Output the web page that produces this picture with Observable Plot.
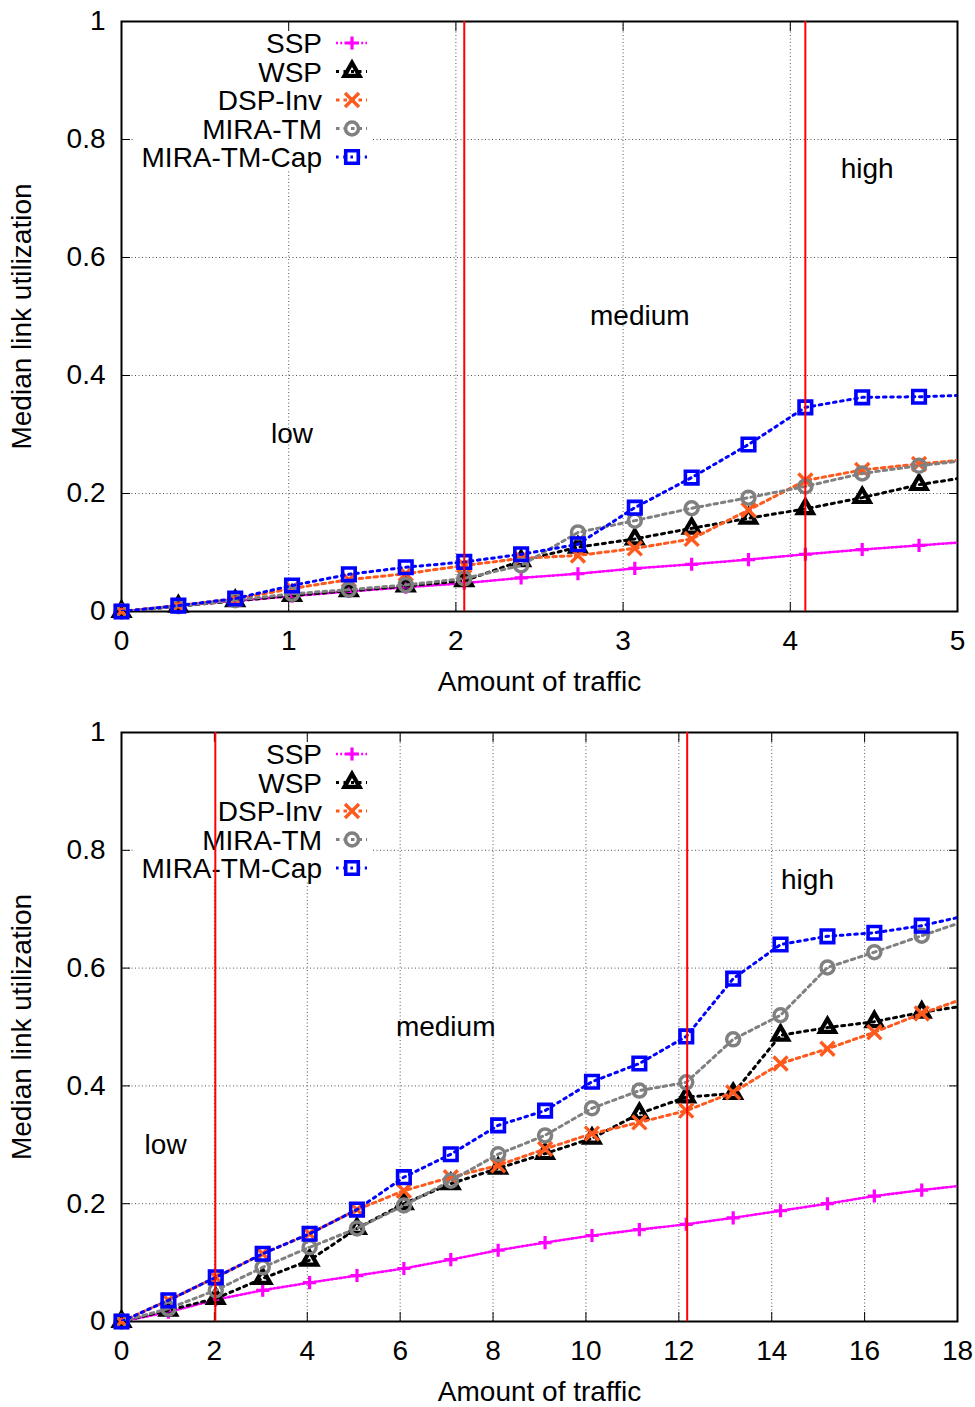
<!DOCTYPE html>
<html><head><meta charset="utf-8">
<script src="https://cdn.jsdelivr.net/npm/d3@7"></script>
<script src="https://cdn.jsdelivr.net/npm/@observablehq/plot@0.6"></script>
<style>
html,body{margin:0;padding:0;background:#fff;}
#c svg{display:block;}
</style></head><body><div id="c"></div>
<script>
// ---------- data ----------
const seriesNames = ["SSP", "WSP", "DSP-Inv", "MIRA-TM", "MIRA-TM-Cap"];
const xLabel = "Amount of traffic";
const yLabel = "Median link utilization";
const yTicks = [0, 0.2, 0.4, 0.6, 0.8, 1];
const yTickLabels = ["0", "0.2", "0.4", "0.6", "0.8", "1"];
const regionNames = ["low", "medium", "high"];

// top panel
const topXTicks = [0, 1, 2, 3, 4, 5];
const topX = [0, 0.34, 0.68, 1.02, 1.36, 1.70, 2.05, 2.39, 2.73, 3.07, 3.41, 3.75, 4.09, 4.43, 4.77, 5.11];
const topSSP = [0, 0.010, 0.018, 0.026, 0.034, 0.041, 0.048, 0.057, 0.064, 0.073, 0.080, 0.088, 0.097, 0.105, 0.112, 0.119];
const topWSP = [0, 0.009, 0.018, 0.027, 0.035, 0.043, 0.052, 0.086, 0.109, 0.123, 0.141, 0.158, 0.174, 0.193, 0.215, 0.230];
const topDSP = [0, 0.010, 0.021, 0.039, 0.054, 0.064, 0.078, 0.090, 0.095, 0.107, 0.123, 0.172, 0.222, 0.240, 0.250, 0.259];
const topMIRA = [0, 0.009, 0.019, 0.030, 0.037, 0.045, 0.056, 0.078, 0.134, 0.154, 0.175, 0.193, 0.212, 0.234, 0.247, 0.258];
const topCap = [0, 0.010, 0.022, 0.044, 0.063, 0.075, 0.084, 0.097, 0.114, 0.176, 0.227, 0.283, 0.346, 0.363, 0.364, 0.367];
const topBoundaries = [2.05, 4.09];
const topRegionX = [1.02, 3.10, 4.46];
const topRegionY = [0.30, 0.50, 0.75];

// bottom panel
const botXTicks = [0, 2, 4, 6, 8, 10, 12, 14, 16, 18];
const botX = [0, 1.01, 2.03, 3.04, 4.05, 5.07, 6.08, 7.09, 8.11, 9.12, 10.13, 11.15, 12.16, 13.17, 14.19, 15.20, 16.21, 17.23, 18.24];
const botSSP = [0, 0.016, 0.037, 0.053, 0.066, 0.078, 0.090, 0.105, 0.121, 0.134, 0.146, 0.156, 0.165, 0.176, 0.188, 0.200, 0.213, 0.223, 0.232];
const botWSP = [0, 0.019, 0.039, 0.073, 0.104, 0.158, 0.200, 0.234, 0.260, 0.285, 0.311, 0.353, 0.381, 0.387, 0.486, 0.499, 0.509, 0.525, 0.537];
const botDSP = [0, 0.036, 0.075, 0.115, 0.149, 0.190, 0.222, 0.245, 0.265, 0.293, 0.319, 0.338, 0.358, 0.389, 0.438, 0.463, 0.491, 0.523, 0.551];
const botMIRA = [0, 0.022, 0.053, 0.092, 0.126, 0.158, 0.197, 0.239, 0.284, 0.316, 0.362, 0.392, 0.406, 0.479, 0.520, 0.601, 0.627, 0.655, 0.682];
const botCap = [0, 0.036, 0.075, 0.115, 0.149, 0.190, 0.245, 0.284, 0.333, 0.358, 0.407, 0.438, 0.484, 0.582, 0.640, 0.654, 0.660, 0.672, 0.690];
const botBoundaries = [2.02, 12.18];
const botRegionX = [0.95, 6.98, 14.77];
const botRegionY = [0.30, 0.50, 0.75];

// ---------- styles ----------
const FONT = "'Liberation Sans', Arial, Helvetica, sans-serif";
const FS = 28;
const seriesStyles = [
  {color: "#ff00ff", symbol: d3.symbolPlus, r: 4.3, sw: 3.2, dash: "2,2.2", lw: 2.6},
  {color: "#000000", symbol: d3.symbolTriangle2, r: 7.2, sw: 4.2, dash: "3,4.5", lw: 3},
  {color: "#ff5a1e", symbol: d3.symbolTimes, r: 6.4, sw: 3.4, dash: "3.5,4", lw: 3},
  {color: "#808080", symbol: d3.symbolCircle, r: 6.5, sw: 3.5, dash: "3.5,4", lw: 3},
  {color: "#0000ff", symbol: d3.symbolSquare2, r: 8.0, sw: 3.6, dash: "2.6,4.6", lw: 3}
];

function legendMark(index, scales, values, dim) {
  const g = d3.create("svg:g");
  const L = dim.marginLeft, T = dim.marginTop;
  g.append("rect").attr("x", L + 14).attr("y", T + 4).attr("width", 237).attr("height", 146).attr("fill", "white");
  seriesNames.forEach((name, i) => {
    const s = seriesStyles[i];
    const cy = T + 22 + i * 28.5;
    g.append("text").attr("x", L + 201).attr("y", cy).attr("dy", "0.36em")
      .attr("text-anchor", "end").attr("font-family", FONT).attr("font-size", FS).attr("fill", "black").text(name);
    g.append("line").attr("x1", L + 215).attr("x2", L + 246).attr("y1", cy).attr("y2", cy)
      .attr("stroke", s.color).attr("stroke-width", s.lw).attr("stroke-dasharray", s.dash);
    g.append("path").attr("transform", `translate(${L + 231},${cy})`)
      .attr("d", d3.symbol(s.symbol, Math.PI * s.r * s.r)())
      .attr("fill", "none").attr("stroke", s.color).attr("stroke-width", s.sw);
  });
  return g.node();
}

function panel(cfg) {
  const series = [cfg.ssp, cfg.wsp, cfg.dsp, cfg.mira, cfg.cap];
  const xmax = cfg.xTicks[cfg.xTicks.length - 1];
  const seriesMarks = [];
  series.forEach((vals, i) => {
    const s = seriesStyles[i];
    const data = vals.map((v, j) => ({x: cfg.xs[j], y: v}));
    seriesMarks.push(Plot.line(data, {x: "x", y: "y", stroke: s.color, strokeWidth: s.lw, strokeDasharray: s.dash, clip: true}));
    seriesMarks.push(Plot.dot(data, {x: "x", y: "y", filter: d => d.x <= xmax, symbol: s.symbol, r: s.r, fill: "none", stroke: s.color, strokeWidth: s.sw}));
  });
  const regions = regionNames.map((t, i) => ({t, x: cfg.regionX[i], y: cfg.regionY[i]}));
  const innerX = cfg.xTicks.slice(1, -1);
  const innerY = yTicks.slice(1, -1);
  const noText = () => "";
  return Plot.plot({
    width: 975, height: cfg.height,
    marginLeft: 121, marginRight: 18, marginTop: cfg.mt, marginBottom: cfg.mb,
    x: {domain: [0, xmax]},
    y: {domain: [0, 1]},
    style: {fontFamily: FONT, fontSize: FS + "px", color: "black", background: "white", overflow: "visible"},
    marks: [
      Plot.ruleX(innerX, {stroke: "#555", strokeWidth: 1, strokeDasharray: "1,2.5"}),
      Plot.ruleY(innerY, {stroke: "#555", strokeWidth: 1, strokeDasharray: "1,2.5"}),
      legendMark,
      Plot.frame({stroke: "black", strokeWidth: 2}),
      Plot.axisX({ticks: cfg.xTicks, anchor: "bottom", tickSize: 9, dy: -9, tickFormat: noText, label: null}),
      Plot.axisX({ticks: cfg.xTicks, anchor: "top", tickSize: 9, dy: 9, tickFormat: noText, label: null}),
      Plot.axisY({ticks: yTicks, anchor: "left", tickSize: 9, dx: 9, tickFormat: noText, label: null}),
      Plot.axisY({ticks: yTicks, anchor: "right", tickSize: 9, dx: -9, tickFormat: noText, label: null}),
      ...seriesMarks,
      Plot.ruleX(cfg.bounds, {stroke: "#ff0000", strokeWidth: 2}),
      Plot.text(regions, {x: "x", y: "y", text: "t", fontSize: FS, fill: "black", textAnchor: "middle"}),
      Plot.axisX({ticks: cfg.xTicks, anchor: "bottom", tickSize: 0, tickPadding: 19, fontSize: FS, label: null, tickFormat: d => String(d)}),
      Plot.axisY({ticks: yTicks, anchor: "left", tickSize: 0, tickPadding: 16, fontSize: FS, label: null,
        tickFormat: d => yTickLabels[yTicks.indexOf(d)]}),
      Plot.text([xLabel], {frameAnchor: "bottom", dy: 71, lineAnchor: "middle", fontSize: FS, fill: "black"}),
      Plot.text([yLabel], {frameAnchor: "left", dx: -99, rotate: -90, textAnchor: "middle", lineAnchor: "middle", fontSize: FS, fill: "black"})
    ]
  });
}

const c = document.getElementById("c");
c.appendChild(panel({height: 703, mt: 21, mb: 92, xTicks: topXTicks, xs: topX,
  ssp: topSSP, wsp: topWSP, dsp: topDSP, mira: topMIRA, cap: topCap,
  bounds: topBoundaries, regionX: topRegionX, regionY: topRegionY}));
c.appendChild(panel({height: 704, mt: 29, mb: 86, xTicks: botXTicks, xs: botX,
  ssp: botSSP, wsp: botWSP, dsp: botDSP, mira: botMIRA, cap: botCap,
  bounds: botBoundaries, regionX: botRegionX, regionY: botRegionY}));
</script>
</body></html>
